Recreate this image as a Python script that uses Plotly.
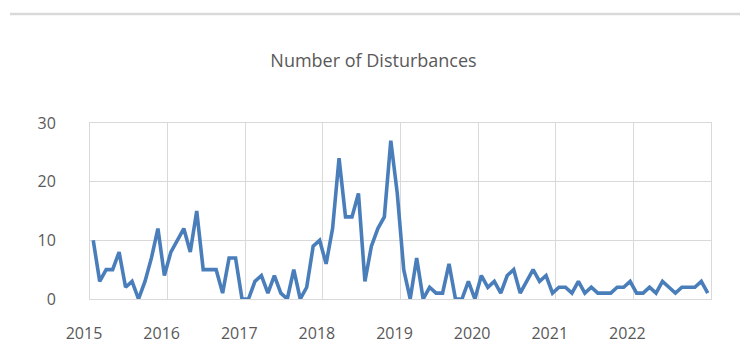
import plotly.graph_objects as go
import pandas as pd

start_year = 2015
values = [10, 3, 5, 5, 8, 2, 3, 0, 3, 7, 12, 4,
          8, 10, 12, 8, 15, 5, 5, 5, 1, 7, 7, 0,
          0, 3, 4, 1, 4, 1, 0, 5, 0, 2, 9, 10,
          6, 12, 24, 14, 14, 18, 3, 9, 12, 14, 27, 18,
          5, 0, 7, 0, 2, 1, 1, 6, 0, 0, 3, 0,
          4, 2, 3, 1, 4, 5, 1, 3, 5, 3, 4, 1,
          2, 2, 1, 3, 1, 2, 1, 1, 1, 2, 2, 3,
          1, 1, 2, 1, 3, 2, 1, 2, 2, 2, 3, 1]
year_ticks = [2015, 2016, 2017, 2018, 2019, 2020, 2021, 2022]
y_ticks = [0, 10, 20, 30]
title_text = "Number of Disturbances"

months = pd.date_range(f"{start_year}-01-01", periods=len(values), freq="MS")
x = [d.year + (d.month - 0.5) / 12 for d in months]

grid = "#d9d9d9"
txt = "#595959"
font_family = "Open Sans"

fig = go.Figure()
fig.add_trace(go.Scatter(
    x=x, y=values, mode="lines",
    line=dict(color="#4a7ebb", width=3.6),
    hoverinfo="skip", showlegend=False,
))

fig.update_layout(
    width=740, height=363,
    margin=dict(l=90, r=29, t=123, b=64),
    paper_bgcolor="white", plot_bgcolor="white",
    title=dict(text=title_text, x=373.5 / 740, xanchor="center", xref="container",
               y=1 - 61 / 363, yanchor="middle",
               font=dict(family=font_family, size=18, color=txt)),
    font=dict(family=font_family, color=txt),
    xaxis=dict(
        range=[start_year, start_year + 8],
        tickvals=year_ticks, ticktext=[str(t) for t in year_ticks],
        showgrid=True, gridcolor=grid, gridwidth=1,
        showline=True, linecolor=grid, linewidth=1, mirror=True,
        zeroline=False, ticks="",
        tickfont=dict(size=16, color=txt),
        ticklabelshift=-6, ticklabelstandoff=20,
    ),
    yaxis=dict(
        range=[0, 30], tickvals=y_ticks,
        showgrid=True, gridcolor=grid, gridwidth=1,
        showline=True, linecolor=grid, linewidth=1, mirror=True,
        zeroline=False, ticks="",
        tickfont=dict(size=16, color=txt),
        ticklabelstandoff=30,
    ),
    shapes=[dict(type="line", xref="paper", yref="paper",
                 x0=(10 - 90) / 621, x1=(740 - 90) / 621,
                 y0=(299 - 14) / 176, y1=(299 - 14) / 176,
                 line=dict(color=grid, width=2.5))],
)

fig.write_html("out.html")
